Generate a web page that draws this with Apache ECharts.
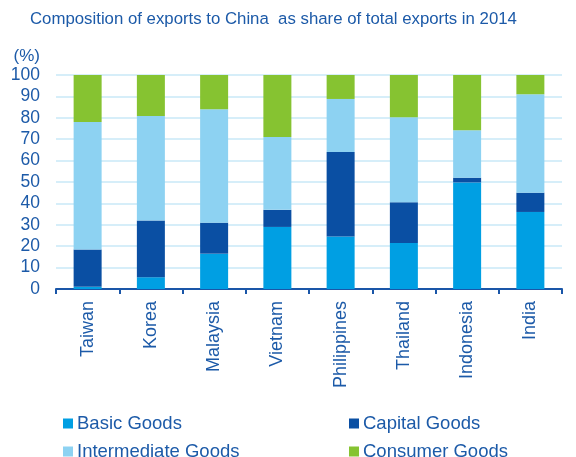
<!DOCTYPE html>
<html>
<head>
<meta charset="utf-8">
<script src="https://cdn.jsdelivr.net/npm/echarts@6/dist/echarts.min.js"></script>
<style>
  html, body { margin: 0; padding: 0; background: #fff; }
  #chart { width: 576px; height: 457px; }
</style>
</head>
<body>
<div id="chart"></div>
<script>
// Export composition to China, share of total exports (%), 2014
const countries = ['Taiwan', 'Korea', 'Malaysia', 'Vietnam', 'Philippines', 'Thailand', 'Indonesia', 'India'];
const basicGoods        = [1.0,  5.5, 16.5, 29.0, 24.5, 21.5, 49.8, 36.0];
const capitalGoods      = [17.5, 26.5, 14.5, 8.0, 39.5, 19.0, 2.2, 9.0];
const intermediateGoods = [59.5, 48.8, 53.0, 34.0, 24.8, 39.7, 22.2, 46.0];
const consumerGoods     = [22.0, 19.2, 16.0, 29.0, 11.2, 19.8, 25.8, 9.0];
const yTicks = [0, 10, 20, 30, 40, 50, 60, 70, 80, 90, 100];

const textBlue = '#1c5aa8';
const font = 'Liberation Sans, Arial, sans-serif';

const colors = {
  basic: '#009fe3',
  capital: '#0a4fa3',
  intermediate: '#8dd2f2',
  consumer: '#86c331'
};

const chart = echarts.init(document.getElementById('chart'), null, { renderer: 'canvas' });

function legendAt(name, left, top) {
  return {
    data: [name],
    left: left,
    top: top,
    padding: 0,
    itemWidth: 10,
    itemHeight: 10,
    itemGap: 0,
    icon: 'rect',
    selectedMode: false,
    textStyle: { color: textBlue, fontSize: 18.5, fontFamily: font, padding: [0, 0, 0, -1] }
  };
}

function barSeries(name, values, color) {
  return {
    name: name,
    type: 'bar',
    stack: 'total',
    barWidth: 28,
    data: values,
    itemStyle: { color: color },
    emphasis: { disabled: true }
  };
}

chart.setOption({
  animation: false,
  title: {
    text: 'Composition of exports to China  as share of total exports in 2014',
    left: 30,
    top: 11,
    padding: 0,
    textStyle: { color: textBlue, fontSize: 16.8, fontWeight: 'normal', fontFamily: font }
  },
  legend: [
    legendAt('Basic Goods', 63, 414),
    legendAt('Capital Goods', 349, 414),
    legendAt('Intermediate Goods', 63, 442),
    legendAt('Consumer Goods', 349, 442)
  ],
  grid: { left: 56, right: 14, top: 75, bottom: 168 },
  xAxis: {
    type: 'category',
    data: countries,
    axisLine: { show: true, lineStyle: { color: '#1a56a8', width: 2 } },
    axisTick: { show: true, length: 5, lineStyle: { color: '#1a56a8', width: 2 } },
    axisLabel: {
      rotate: 90,
      margin: 12,
      color: textBlue,
      fontSize: 18,
      fontFamily: font
    }
  },
  yAxis: {
    type: 'value',
    min: 0,
    max: 100,
    interval: 10,
    name: '(%)',
    nameLocation: 'end',
    nameGap: 10,
    nameTextStyle: { color: textBlue, fontSize: 17, fontFamily: font, align: 'right', padding: [0, 16, 0, 0] },
    axisLine: { show: false },
    axisTick: { show: false },
    axisLabel: {
      margin: 16,
      color: textBlue,
      fontSize: 17.5,
      fontFamily: font,
      formatter: v => yTicks.includes(v) ? String(v) : ''
    },
    splitLine: { show: true, lineStyle: { color: '#c8e8f7', width: 1.5 } }
  },
  series: [
    barSeries('Basic Goods', basicGoods, colors.basic),
    barSeries('Capital Goods', capitalGoods, colors.capital),
    barSeries('Intermediate Goods', intermediateGoods, colors.intermediate),
    barSeries('Consumer Goods', consumerGoods, colors.consumer)
  ]
});
</script>
</body>
</html>
